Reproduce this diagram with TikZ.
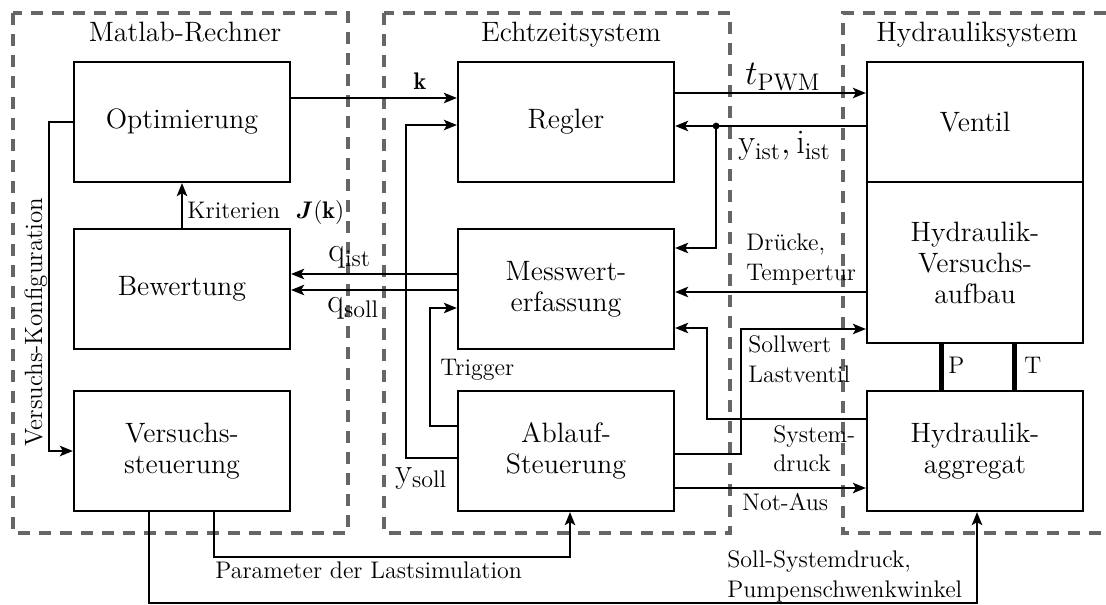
\documentclass[tikz,border=0pt]{standalone}
\usepackage{fontspec}
\usepackage{amsmath}
\usepackage{bm}
\usetikzlibrary{calc,arrows.meta}

\begin{document}
\begin{tikzpicture}[x=0.5pt,y=-0.5pt,
  frame/.style={draw=black!60, line width=2pt, dash pattern=on 6pt off 4.5pt},
  blk/.style={draw, line width=1.1pt, fill=white, minimum width=108pt, minimum height=60pt,
    inner sep=0pt, align=center, font=\fontsize{14}{15.5}\selectfont},
  ttl/.style={anchor=base, inner sep=0pt, font=\fontsize{14}{16}\selectfont},
  lbl/.style={anchor=base west, inner sep=0pt, font=\fontsize{12}{14}\selectfont},
  sig/.style={anchor=base west, inner sep=0pt, font=\fontsize{17.28}{20}\selectfont},
  wire/.style={line width=1.1pt},
  arr/.style={wire, -{Stealth[length=6.5pt,width=5.2pt,inset=1.5pt]}},
  pipe/.style={line width=2.5pt},
]
\useasboundingbox (0,0) rectangle (1106,604);

% system frames
\draw[frame] (13,13) rectangle (348,533);
\draw[frame] (384,13) rectangle (730,533);
\draw[frame] (1106,13) -- (843,13) -- (843,533) -- (1106,533);

\node[ttl] (t1) at (185,42) {Matlab-Rechner};
\node[ttl] (t2) at (571,42) {Echtzeitsystem};
\node[ttl] (t3) at (977,42) {Hydrauliksystem};

% blocks
\node[blk] (opt)  at (182,122) {Optimierung};
\node[blk] (bew)  at (182,289) {Bewertung};
\node[blk] (vs)   at (182,451) {Versuchs-\\steuerung};
\node[blk] (reg)  at (566,122) {Regler};
\node[blk] (mess) at (566,289) {Messwert-\\erfassung};
\node[blk] (abl)  at (566,451) {Ablauf-\\Steuerung};
\node[blk] (ven)  at (975,122) {Ventil};
\node[blk, minimum height=80.5pt] (vers) at (975,262.5) {Hydraulik-\\Versuchs-\\aufbau};
\node[blk] (agg)  at (975,451) {Hydraulik-\\aggregat};

% parameters k
\draw[arr] ($(opt.east)+(0,-24)$) -- ($(reg.west)+(0,-24)$);
\node[lbl, anchor=base] (lk) at (420,90) {$\mathbf{k}$};

% PWM time
\draw[arr] ($(reg.east)+(0,-29)$) -- ($(ven.west)+(0,-29)$);
\node[sig] (lpwm) at (745,85) {$t_\mathrm{PWM}$};

% valve feedback
\coordinate (br) at ($(reg.east)+(41,4)$);
\draw[arr] ($(ven.west)+(0,4)$) -- ($(reg.east)+(0,4)$);
\draw[arr] (br) |- ($(mess.east)+(0,-41)$);
\fill (br) circle (1.7pt);
\node[sig] (lyi) at (738,154) {$\mathrm{y}_\mathrm{ist},\mathrm{i}_\mathrm{ist}$};

% criteria
\draw[arr] (bew.north) -- (opt.south);
\node[lbl] (lkr) at (187,218) {Kriterien\ \ $\bm{J}(\mathbf{k})$};

% measured values
\draw[arr] ($(mess.west)+(0,-15)$) -- ($(bew.east)+(0,-15)$);
\draw[arr] ($(mess.west)+(0,1)$) -- ($(bew.east)+(0,1)$);
\node[sig] (lqi) at (328,261) {$\mathrm{q}_\mathrm{ist}$};
\node[sig] (lqs) at (327,312) {$\mathrm{q}_\mathrm{soll}$};

% test configuration
\coordinate (kf) at ($(opt.west)+(-24,0)$);
\draw[arr] (opt.west) -- (kf) |- (vs.west);
\node[lbl, rotate=90, font=\fontsize{12.5}{14}\selectfont] (lkf) at (42,447) {Versuchs-Konfiguration};

% trigger
\draw[arr] ($(abl.west)+(0,-25)$) -- ++(-27,0) |- ($(mess.west)+(0,19)$);
\node[lbl] (ltr) at (440,375) {Trigger};

% setpoint y_soll
\draw[arr] ($(abl.west)+(0,7)$) -- ++(-51,0) |- ($(reg.west)+(0,3)$);
\node[sig] (lys) at (395,482) {$\mathrm{y}_\mathrm{soll}$};

% pressures / temperature
\draw[arr] ($(vers.west)+(0,29.5)$) -- ($(mess.east)+(0,3)$);
\node[lbl] (ld1) at (746,250) {Drücke,};
\node[lbl] (ld2) at (746,280) {Tempertur};

% load valve setpoint
\draw[arr] ($(abl.east)+(0,3)$) -- ++(66,0) |- ($(vers.west)+(0,66.5)$);
\node[lbl] (ls1) at (748,352) {Sollwert};
\node[lbl] (ls2) at (748,382) {Lastventil};

% system pressure
\draw[arr] ($(agg.west)+(0,-32)$) -- ++(-159,0) |- ($(mess.east)+(0,39)$);
\node[lbl] (lp1) at (773,442) {System-};
\node[lbl] (lp2) at (773,471) {druck};

% emergency stop
\draw[arr] ($(abl.east)+(0,37)$) -- ($(agg.west)+(0,37)$);
\node[lbl] (lna) at (742,510) {Not-Aus};

% load simulation parameters
\draw[arr] ($(vs.south)+(32,0)$) -- ++(0,45) -| ($(abl.south)+(4,0)$);
\node[lbl] (lls) at (215,578) {Parameter der Lastsimulation};

% pump settings
\draw[arr] ($(vs.south)+(-33,0)$) -- ++(0,91) -| ($(agg.south)+(2,0)$);
\node[lbl] (lsd1) at (727,567) {Soll-Systemdruck,};
\node[lbl] (lsd2) at (727,597) {Pumpenschwenkwinkel};

% hydraulic lines P and T
\draw[pipe] ($(vers.south)+(-34,0)$) -- ($(agg.north)+(-34,0)$);
\draw[pipe] ($(vers.south)+(39,0)$) -- ($(agg.north)+(39,0)$);
\node[lbl] (lP) at (948,373) {P};
\node[lbl] (lT) at (1024,373) {T};
\end{tikzpicture}
\end{document}
